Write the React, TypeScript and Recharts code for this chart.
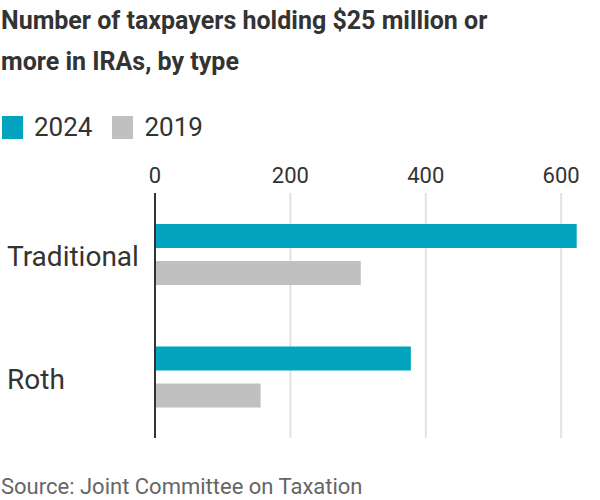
import { BarChart, Bar, XAxis, YAxis, CartesianGrid, ReferenceLine } from "recharts";

const categories = ["Traditional", "Roth"];
const values2024 = [623, 378];
const values2019 = [304, 156];
const xTicks = [0, 200, 400, 600];
const gridValues = [200, 400, 600];

const data = categories.map((name, i) => ({
  name,
  y2024: values2024[i],
  y2019: values2019[i],
}));

const FONT = "Roboto, 'Noto Sans', sans-serif";
const TEAL = "#02a3be";
const GREY = "#c0c0c0";

const CategoryTick = (props: any) => {
  const { y, payload } = props;
  return (
    <text x={7} y={y} dy={12} textAnchor="start" fontSize={28} fill="#333" fontFamily={FONT}>
      {payload.value}
    </text>
  );
};

const LegendItem = ({ color, label }: { color: string; label: string }) => (
  <div style={{ display: "flex", alignItems: "center", marginRight: 20 }}>
    <div style={{ width: 21, height: 23, background: color, marginRight: 11 }} />
    <span style={{ fontSize: 26, color: "#333" }}>{label}</span>
  </div>
);

const App = () => {
  return (
    <div
      style={{
        position: "absolute",
        left: 0,
        top: 0,
        width: 600,
        height: 500,
        background: "#fff",
        fontFamily: FONT,
        overflow: "hidden",
      }}
    >
      <div
        style={{
          position: "absolute",
          left: 1,
          top: 0,
          width: 598,
          fontSize: 25,
          fontWeight: 700,
          lineHeight: "41px",
          color: "#333",
        }}
      >
        Number of taxpayers holding $25 million or
        <br />
        more in IRAs, by type
      </div>
      <div style={{ position: "absolute", left: 2, top: 112, display: "flex" }}>
        <LegendItem color={TEAL} label="2024" />
        <LegendItem color={GREY} label="2019" />
      </div>
      <div style={{ position: "absolute", left: 0, top: 150 }}>
        <BarChart
          width={600}
          height={300}
          data={data}
          layout="vertical"
          margin={{ top: 13, right: 5, left: 0, bottom: 12 }}
          barCategoryGap="25%"
          barGap={13}
        >
          <CartesianGrid
            horizontal={false}
            verticalValues={gridValues}
            stroke="#e2e2e2"
            strokeWidth={2}
          />
          <XAxis
            type="number"
            orientation="top"
            domain={[0, 650]}
            ticks={xTicks}
            height={30}
            axisLine={false}
            tickLine={false}
            tickSize={8}
            tickMargin={2}
            tick={{ fontSize: 22, fill: "#333", fontFamily: FONT }}
          />
          <YAxis
            type="category"
            dataKey="name"
            width={155}
            axisLine={false}
            tickLine={false}
            tick={<CategoryTick />}
          />
          <Bar dataKey="y2024" fill={TEAL} barSize={24} isAnimationActive={false} />
          <Bar dataKey="y2019" fill={GREY} barSize={24} isAnimationActive={false} />
          <ReferenceLine x={0} stroke="#333" strokeWidth={2} />
        </BarChart>
      </div>
      <div
        style={{
          position: "absolute",
          left: 1,
          top: 474,
          fontSize: 22,
          color: "#666",
        }}
      >
        Source: Joint Committee on Taxation
      </div>
    </div>
  );
};

export default App;
